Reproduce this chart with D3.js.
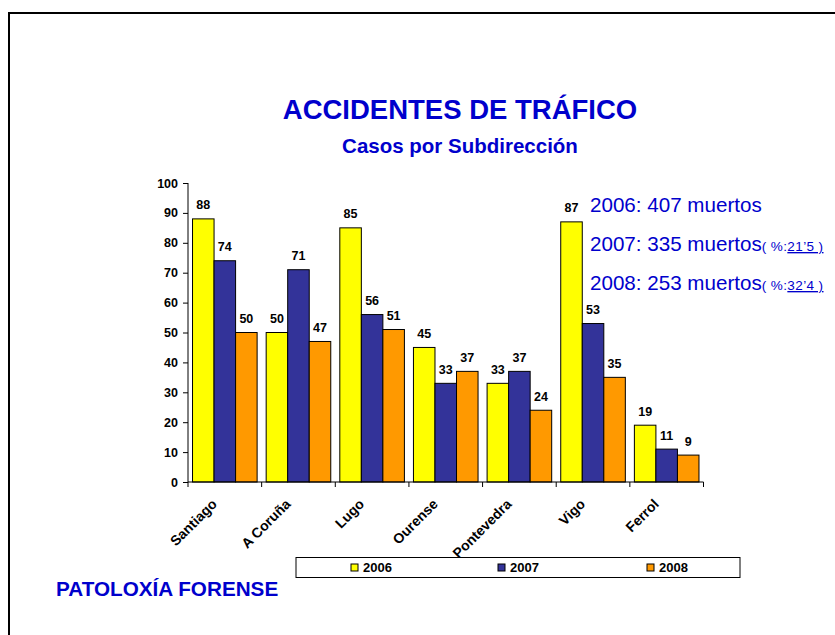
<!DOCTYPE html>
<html><head><meta charset="utf-8">
<script src="https://cdn.jsdelivr.net/npm/d3@7"></script>
<style>
html,body{margin:0;padding:0;background:#fff;}
svg text{font-family:"Liberation Sans",Arial,sans-serif;}
</style></head>
<body>
<svg id="c" width="835" height="635"></svg>
<script>
const categories = ["Santiago","A Coruña","Lugo","Ourense","Pontevedra","Vigo","Ferrol"];
const series = ["2006","2007","2008"];
const values2006 = [88,50,85,45,33,87,19];
const values2007 = [74,71,56,33,37,53,11];
const values2008 = [50,47,51,37,24,35,9];
const yTicks = [0,10,20,30,40,50,60,70,80,90,100];
const colors = ["#FFFF00","#333399","#FF9900"];
const notes = [
  {main:"2006: 407 muertos", pct:null},
  {main:"2007: 335 muertos", pct:"21’5 )"},
  {main:"2008: 253 muertos", pct:"32’4 )"}
];

const valuesBySeries = [values2006, values2007, values2008];
const svg = d3.select("#c");
const blue = "#0000CC";

// frame
svg.append("rect").attr("x",9).attr("y",13).attr("width",840).attr("height",640)
  .attr("fill","none").attr("stroke","#000").attr("stroke-width",2);

const x = d3.scaleBand().domain(categories).range([188,703.5]).padding(0);
const xi = d3.scaleBand().domain(series).range([0,x.bandwidth()]).paddingInner(0).paddingOuter(0.21);
const y = d3.scaleLinear().domain([0,100]).range([482,183]);

// titles
svg.append("text").attr("x",460).attr("y",119).attr("text-anchor","middle")
  .attr("font-size",27.5).attr("font-weight","bold").attr("fill",blue).text("ACCIDENTES DE TRÁFICO");
svg.append("text").attr("x",460).attr("y",153).attr("text-anchor","middle")
  .attr("font-size",20.5).attr("font-weight","bold").attr("fill",blue).text("Casos por Subdirección");

// bars
const g = svg.append("g");
series.forEach((s,si)=>{
  categories.forEach((c,ci)=>{
    const v = valuesBySeries[si][ci];
    const bx = x(c)+xi(s);
    g.append("rect").attr("x",bx).attr("y",y(v)).attr("width",xi.bandwidth()).attr("height",y(0)-y(v))
      .attr("fill",colors[si]).attr("stroke","#000").attr("stroke-width",1);
    g.append("text").attr("x",bx+xi.bandwidth()/2).attr("y",y(v)-9.5).attr("text-anchor","middle")
      .attr("font-size",12.5).attr("font-weight","bold").attr("fill","#000").text(v);
  });
});

// y axis
const ya = svg.append("g").attr("transform","translate(188,0)")
  .call(d3.axisLeft(y).tickValues(yTicks).tickSize(5).tickPadding(5));
ya.selectAll("text").attr("font-size",12.5).attr("font-weight","bold").attr("fill","#000")
  .style("font-family","'Liberation Sans',Arial,sans-serif");
ya.selectAll("path,line").attr("stroke","#000");
ya.select(".domain").attr("d","M0,"+y(100)+"V"+y(0));

// x axis
const xa = svg.append("g").attr("transform","translate(0,482)");
xa.append("line").attr("x1",x.range()[0]).attr("x2",x.range()[1]).attr("stroke","#000");
const bounds = categories.map(c=>x(c)).concat([x(categories[categories.length-1])+x.bandwidth()]);
bounds.forEach(b=>xa.append("line").attr("x1",b).attr("x2",b).attr("y1",0).attr("y2",5).attr("stroke","#000"));
categories.forEach(c=>{
  const cx = x(c)+x.bandwidth()/2;
  xa.append("text").attr("transform","translate("+(cx-7)+",23) rotate(-45)")
    .attr("text-anchor","end")
    .attr("font-size",14).attr("font-weight","bold").attr("fill","#000").text(c);
});

// notes
notes.forEach((n,i)=>{
  const t = svg.append("text").attr("x",590).attr("y",212+i*39).attr("fill",blue);
  t.append("tspan").attr("font-size",20.6).text(n.main);
  if(n.pct){
    t.append("tspan").attr("font-size",13.5).attr("letter-spacing",0.4).text("( %:");
    t.append("tspan").attr("font-size",13.5).attr("letter-spacing",0.4).attr("text-decoration","underline").text(n.pct);
  }
});

// legend
const lg = svg.append("g");
lg.append("rect").attr("x",296).attr("y",557.5).attr("width",444).attr("height",20)
  .attr("fill","#fff").attr("stroke","#000").attr("stroke-width",1);
const legX = [351,498,647];
series.forEach((s,i)=>{
  lg.append("rect").attr("x",legX[i]).attr("y",564).attr("width",7).attr("height",7)
    .attr("fill",colors[i]).attr("stroke","#000").attr("stroke-width",1);
  lg.append("text").attr("x",legX[i]+12).attr("y",572).attr("font-size",13).attr("font-weight","bold")
    .attr("fill","#000").text(s);
});

// footer
svg.append("text").attr("x",56).attr("y",596).attr("font-size",20.7).attr("font-weight","bold")
  .attr("fill",blue).text("PATOLOXÍA FORENSE");
</script>
</body></html>
